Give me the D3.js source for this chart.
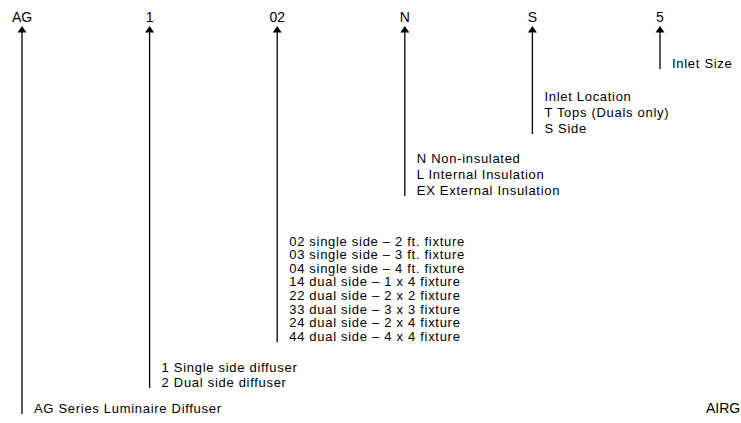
<!DOCTYPE html>
<html>
<head>
  <title>AG Model Number</title>
  <script src="https://cdn.jsdelivr.net/npm/d3@7"></script>
  <style>
    body { margin: 0; background: #fff; font-family: "Liberation Sans", Arial, sans-serif; }
  </style>
</head>
<body>
  <div id="chart"></div>
  <script>
    // model number parts, left to right
    const codes = ["AG", "1", "02", "N", "S", "5"];

    // description lines for each part
    const descAG = ["AG Series Luminaire Diffuser"];
    const desc1 = ["1 Single side diffuser", "2 Dual side diffuser"];
    const desc02 = [
      "02 single side \u2013 2 ft. fixture",
      "03 single side \u2013 3 ft. fixture",
      "04 single side \u2013 4 ft. fixture",
      "14 dual side \u2013 1 x 4 fixture",
      "22 dual side \u2013 2 x 2 fixture",
      "33 dual side \u2013 3 x 3 fixture",
      "24 dual side \u2013 2 x 4 fixture",
      "44 dual side \u2013 4 x 4 fixture"
    ];
    const descN = ["N Non-insulated", "L Internal Insulation", "EX External Insulation"];
    const descS = ["Inlet Location", "T Tops (Duals only)", "S Side"];
    const desc5 = ["Inlet Size"];

    const descriptions = [descAG, desc1, desc02, descN, descS, desc5];

    const width = 741, height = 423;

    // layout: first text line centre and line spacing per part
    const firstLineY = [408, 367, 241, 158, 96, 63];
    const lineStep = [15, 15, 13.6, 16, 16, 15];

    const svg = d3.select("#chart").append("svg")
      .attr("width", width)
      .attr("height", height);

    const x = d3.scalePoint()
      .domain(codes)
      .range([22, 660]);

    const parts = codes.map((c, i) => ({
      code: c,
      lines: descriptions[i],
      y0: firstLineY[i],
      step: lineStep[i]
    }));

    const g = svg.selectAll("g.part")
      .data(parts)
      .join("g")
      .attr("class", "part")
      .attr("transform", d => `translate(${x(d.code)},0)`);

    // code labels
    g.append("text")
      .attr("x", 0)
      .attr("y", 22)
      .attr("text-anchor", "middle")
      .style("font-size", "14px")
      .text(d => d.code);

    // arrowheads
    g.append("path")
      .attr("d", "M0,26 L4.5,32.5 L-4.5,32.5 Z")
      .attr("fill", "#000");

    // vertical lines
    g.append("line")
      .attr("x1", 0).attr("x2", 0)
      .attr("y1", 32)
      .attr("y2", d => d.y0 + (d.lines.length - 1) * d.step + 6)
      .attr("stroke", "#000")
      .attr("stroke-width", 1.3);

    // description text
    g.append("g")
      .selectAll("text")
      .data(d => d.lines.map((t, j) => ({ t, y: d.y0 + j * d.step })))
      .join("text")
      .attr("x", 12)
      .attr("y", d => d.y)
      .attr("dy", "0.35em")
      .style("font-size", "13px")
      .style("letter-spacing", "0.7px")
      .text(d => d.t);

    svg.append("text")
      .attr("x", 706)
      .attr("y", 408)
      .attr("dy", "0.35em")
      .style("font-size", "14px")
      .text("AIRGUIDE");
  </script>
</body>
</html>
